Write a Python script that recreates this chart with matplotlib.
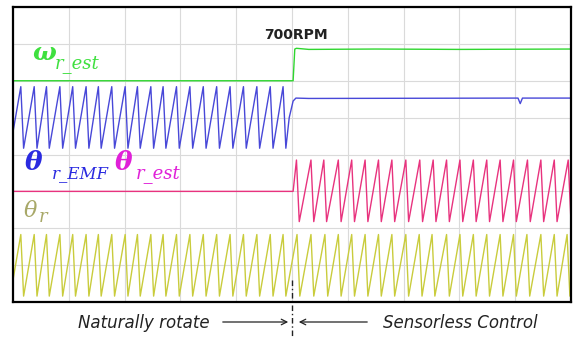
import numpy as np
import matplotlib.pyplot as plt

# time axis in scope divisions (10 across), amplitude in divisions (8 high)
switch_t = 5.0

# peaks of the position sawtooth (rise slow, drop fast)
theta_peaks = [0.14, 0.38, 0.60, 0.84, 1.07, 1.31, 1.53, 1.77, 2.01, 2.23,
               2.47, 2.69, 2.93, 3.17, 3.41, 3.65, 3.89, 4.13, 4.37, 4.61,
               4.84, 5.09, 5.34, 5.59, 5.83, 6.07, 6.31, 6.55, 6.79, 7.04,
               7.28, 7.51, 7.77, 8.01, 8.25, 8.49, 8.73, 8.97, 9.21, 9.46,
               9.70, 9.93]
est_peaks = [5.08, 5.34, 5.57, 5.83, 6.07, 6.31, 6.55, 6.79, 7.04, 7.29,
             7.53, 7.77, 8.01, 8.25, 8.49, 8.73, 8.97, 9.22, 9.46, 9.70, 9.95]
fall = 0.05

# speed estimate (green)
w_t = [0.0, 5.02, 5.05, 5.08, 5.3, 6.5, 8.0, 10.0]
w_v = [6.0, 6.0, 6.86, 6.88, 6.85, 6.86, 6.85, 6.86]

# theta_EMF after the switch (blue plateau)
emf_after_t = [4.89, 4.95, 5.02, 5.07, 5.3, 9.05, 9.09, 9.13, 10.0]
emf_after_v = [4.17, 5.0, 5.45, 5.53, 5.52, 5.53, 5.38, 5.53, 5.53]

emf_hi, emf_lo = 5.84, 4.17
est_flat = 3.0
est_hi, est_lo = 3.85, 2.18
th_hi, th_lo = 1.83, 0.16


def saw(peaks, hi, lo):
    t, v = [], []
    for p in peaks:
        t += [p, p + fall]
        v += [hi, lo]
    return t, v


fig = plt.figure(figsize=(5.73, 3.37), dpi=100)
ax = fig.add_axes([13 / 573, 35 / 337, 558 / 573, 295 / 337])

# green speed
ax.plot(w_t, w_v, color='#2fd62f', lw=1.0)

# blue theta_EMF: sawtooth before switch, plateau after
bt, bv = saw(theta_peaks[:21], emf_hi, emf_lo)
bt = [theta_peaks[0] - 0.19] + bt + emf_after_t
bv = [emf_lo] + bv + emf_after_v
ax.plot(bt, bv, color='#4848d8', lw=1.0)

# pink theta_est: flat before switch, sawtooth after
pt, pv = saw(est_peaks, est_hi, est_lo)
pt = [0.0, 5.02] + pt + [10.2]
pv = [est_flat, est_flat] + pv + [est_lo + (est_hi - est_lo) * 0.2]
ax.plot(pt, pv, color='#e8337e', lw=1.0)

# yellow theta_r
yt, yv = saw(theta_peaks, th_hi, th_lo)
yt = [theta_peaks[0] - 0.19] + yt + [10.2]
yv = [th_lo] + yv + [th_lo + (th_hi - th_lo) * 0.8]
ax.plot(yt, yv, color='#c9cc3c', lw=1.0)

ax.set_xlim(0, 10)
ax.set_ylim(0, 8)
ax.set_xticks(range(11))
ax.set_yticks(range(9))
ax.tick_params(length=0, labelbottom=False, labelleft=False)
ax.grid(True, color='#dadada', lw=0.8)
ax.set_axisbelow(True)
for s in ax.spines.values():
    s.set_linewidth(1.6)
    s.set_color('black')

# switch marker below the screen
ax.plot([switch_t, switch_t], [0.6, -0.95], color='#222222', lw=1.0,
        ls=(0, (4, 2, 1, 2)), clip_on=False)

ax.text(4.5, 7.25, '700RPM', fontsize=10, fontweight='bold', color='#222222',
        ha='left', va='center')

# trace labels
serif = 'DejaVu Serif'
def lab(x, y, s, c, size, bold=False):
    fig.text(x / 573, 1 - y / 337, s, color=c, fontsize=size, family=serif,
             style='italic', fontweight='bold' if bold else 'normal',
             va='baseline', ha='left')

lab(32, 60, 'ω', '#3ee03e', 18, bold=True)
lab(55, 68, 'r_est', '#3ee03e', 13)
lab(25, 170, 'θ', '#2a2ae0', 19, bold=True)
lab(52, 178, 'r_EMF', '#2a2ae0', 12)
lab(115, 170, 'θ', '#e020d8', 19, bold=True)
lab(136, 178, 'r_est', '#e020d8', 13)
lab(24, 217, 'θ', '#a8a868', 16)
lab(39, 222, 'r', '#a8a868', 13)

# bottom annotations
fig.text(144 / 573, 1 - 323 / 337, 'Naturally rotate', fontsize=12,
         style='italic', ha='center', va='center', color='#222222')
fig.text(460 / 573, 1 - 323 / 337, 'Sensorless Control', fontsize=12,
         style='italic', ha='center', va='center', color='#222222')
ax.annotate('', xy=(291, 15), xytext=(220, 15), xycoords='figure pixels',
            arrowprops=dict(arrowstyle='->', lw=0.9, color='#222222'))
ax.annotate('', xy=(296, 15), xytext=(370, 15), xycoords='figure pixels',
            arrowprops=dict(arrowstyle='->', lw=0.9, color='#222222'))

fig.savefig('out.png', dpi=100)
